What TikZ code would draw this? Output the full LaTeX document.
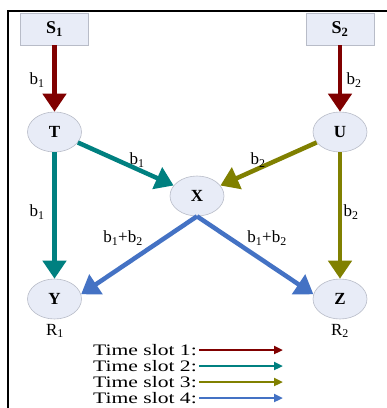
\documentclass[tikz,border=0pt]{standalone}
\usepackage{fontspec}
\setmainfont{Liberation Serif}
\usetikzlibrary{arrows.meta,shapes.geometric}
\definecolor{cred}{RGB}{128,0,0}
\definecolor{cteal}{RGB}{0,128,128}
\definecolor{colive}{RGB}{128,128,0}
\definecolor{cblue}{RGB}{68,114,196}
\definecolor{efill}{RGB}{232,236,247}
\definecolor{eborder}{RGB}{184,188,200}
\begin{document}
\begin{tikzpicture}[x=1pt,y=-1pt,
  relay/.style={ellipse, draw=eborder, fill=efill, line width=0.6pt, minimum width=54pt, minimum height=40pt, inner sep=0pt, font=\fontsize{17}{17}\selectfont\bfseries},
  src/.style={rectangle, draw=eborder, fill=efill, line width=0.6pt, minimum width=68pt, minimum height=32pt, inner sep=0pt, font=\fontsize{18}{18}\selectfont\bfseries},
  lbl/.style={font=\fontsize{17}{17}\selectfont, inner sep=0pt},
  big/.style={-{Triangle[width=23pt,length=18pt]}, line width=4.5pt},
  leg/.style={-{Triangle[width=8pt,length=9pt]}, line width=2.5pt},
  legtxt/.style={anchor=east, inner sep=0pt, font=\fontsize{16}{16}\selectfont}
]
\useasboundingbox (0,0) rectangle (387,408);
\fill[white] (0,0) rectangle (387,408);
\draw[line width=2pt] (8,410) -- (8,11) -- (390,11);

\node[src] (S1) at (54.5,29) {S\textsubscript{1}};
\node[src] (S2) at (340,29) {S\textsubscript{2}};
\node[relay] (T) at (54.5,132) {T};
\node[relay] (U) at (340,132) {U};
\node[relay] (X) at (197,196) {X};
\node[relay] (Y) at (54.5,299) {Y};
\node[relay] (Z) at (340,299) {Z};

\draw[big,cred] (S1) -- (T);
\draw[big,cred] (S2) -- (U);
\draw[big,cteal] (T) -- (X);
\draw[big,cteal] (T) -- (Y);
\draw[big,colive] (U) -- (X);
\draw[big,colive] (U) -- (Z);
\draw[big,cblue] (X.south) -- (Y.10);
\draw[big,cblue] (X.south) -- (Z.170);

\node[lbl] (l1) at (37,80) {b\textsubscript{1}};
\node[lbl] (l2) at (354,80) {b\textsubscript{2}};
\node[lbl] (l3) at (137,160) {b\textsubscript{1}};
\node[lbl] (l4) at (258,160) {b\textsubscript{2}};
\node[lbl] (l5) at (37,212) {b\textsubscript{1}};
\node[lbl] (l6) at (351,212) {b\textsubscript{2}};
\node[lbl] (l7) at (123,238) {b\textsubscript{1}+b\textsubscript{2}};
\node[lbl] (l8) at (267,238) {b\textsubscript{1}+b\textsubscript{2}};
\node[lbl] (r1) at (55,331) {R\textsubscript{1}};
\node[lbl] (r2) at (340,331) {R\textsubscript{2}};

\node[legtxt] (t1) at (197,350) {\scalebox{1.35}[1]{Time slot 1:}};
\node[legtxt] (t2) at (197,366) {\scalebox{1.35}[1]{Time slot 2:}};
\node[legtxt] (t3) at (197,382) {\scalebox{1.35}[1]{Time slot 3:}};
\node[legtxt] (t4) at (197,398) {\scalebox{1.35}[1]{Time slot 4:}};
\coordinate (e1) at (283,350);
\coordinate (e2) at (283,366);
\coordinate (e3) at (283,382);
\coordinate (e4) at (283,398);
\draw[leg,cred] ([xshift=2pt]t1.east) -- (e1);
\draw[leg,cteal] ([xshift=2pt]t2.east) -- (e2);
\draw[leg,colive] ([xshift=2pt]t3.east) -- (e3);
\draw[leg,cblue] ([xshift=2pt]t4.east) -- (e4);
\end{tikzpicture}
\end{document}
